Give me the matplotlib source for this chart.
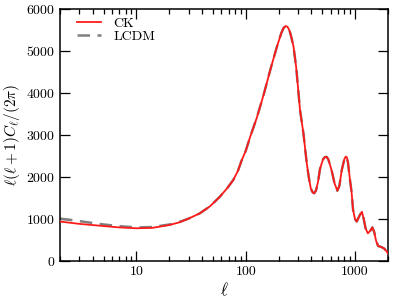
import matplotlib
matplotlib.use("Agg")
import matplotlib.pyplot as plt
from matplotlib.ticker import FixedLocator, FixedFormatter, LogLocator, NullFormatter

plt.rcParams.update({
    "font.family": "serif",
    "font.serif": ["cmr10", "DejaVu Serif"],
    "mathtext.fontset": "cm",
    "axes.formatter.use_mathtext": True,
    "font.size": 10,
})

# multipole values and D_ell
ell_ck = [2, 3, 5, 7, 10, 14, 20, 25, 30, 38, 47, 58, 68, 77, 85, 92, 100,
          110, 126, 146, 170, 193, 212, 222, 232, 242, 252, 262, 274, 290,
          314, 337, 362, 380, 395, 410, 423, 440, 460, 479, 510, 530, 550,
          570, 610, 650, 689, 720, 757, 800, 822, 842, 862, 900, 930, 960,
          1000, 1038, 1100, 1157, 1200, 1250, 1310, 1380, 1443, 1500, 1560,
          1630, 1720, 1840, 1920, 2000]
dl_ck = [940, 885, 833, 800, 780, 790, 857, 925, 1010, 1135, 1300, 1530,
         1740, 1930, 2150, 2400, 2620, 2960, 3400, 3960, 4600, 5100, 5430,
         5545, 5595, 5570, 5480, 5320, 5100, 4600, 3595, 3050, 2326, 1950,
         1720, 1635, 1612, 1680, 1900, 2200, 2420, 2475, 2480, 2420, 2167,
         1850, 1674, 1790, 2167, 2430, 2485, 2470, 2350, 1929, 1650, 1220,
         1000, 940, 1080, 1174, 1010, 780, 660, 720, 800, 690, 480, 357,
         340, 302, 250, 183]

ell_lcdm = [2, 3, 5, 7, 10, 14, 20, 25]
dl_lcdm = [1010, 950, 871, 830, 800, 810, 870, 935]

# from ell ~ 30 on the two curves lie on top of each other
ell_lcdm = ell_lcdm + ell_ck[8:]
dl_lcdm = dl_lcdm + dl_ck[8:]

fig = plt.figure(figsize=(3.93, 2.98), dpi=100)
ax = fig.add_axes([0.1527, 0.124, 0.8343, 0.846])

ax.plot(ell_lcdm, dl_lcdm, color="#808080", linestyle=(0, (5, 3)),
        linewidth=1.8, label="LCDM", zorder=2)
ax.plot(ell_ck, dl_ck, color="#ff1a1a", linewidth=1.3, label="CK", zorder=3)

ax.set_xscale("log")
ax.set_xlim(2, 2000)
ax.set_ylim(0, 6000)
ax.xaxis.set_major_locator(FixedLocator([10, 100, 1000]))
ax.xaxis.set_major_formatter(FixedFormatter(["10", "100", "1000"]))
ax.xaxis.set_minor_locator(LogLocator(base=10, subs=range(2, 10)))
ax.xaxis.set_minor_formatter(NullFormatter())
ax.set_yticks(range(0, 6001, 1000))

ax.tick_params(which="both", direction="in", top=True, right=True,
               width=0.9, labelsize=10)
ax.tick_params(which="major", length=7)
ax.tick_params(which="minor", length=3.5)
for s in ax.spines.values():
    s.set_linewidth(1.1)

ax.set_xlabel(r"$\ell$", fontsize=12, labelpad=2)
ax.set_ylabel(r"$\ell(\ell+1)C_\ell/(2\pi)$", fontsize=11, labelpad=3)

h, l = ax.get_legend_handles_labels()
ax.legend(h[::-1], l[::-1], loc="upper left", frameon=False, fontsize=10,
          handlelength=1.75, handletextpad=0.9, labelspacing=0.0,
          bbox_to_anchor=(0.025, 1.0), borderaxespad=0.2)

fig.savefig("out.png", dpi=100)
